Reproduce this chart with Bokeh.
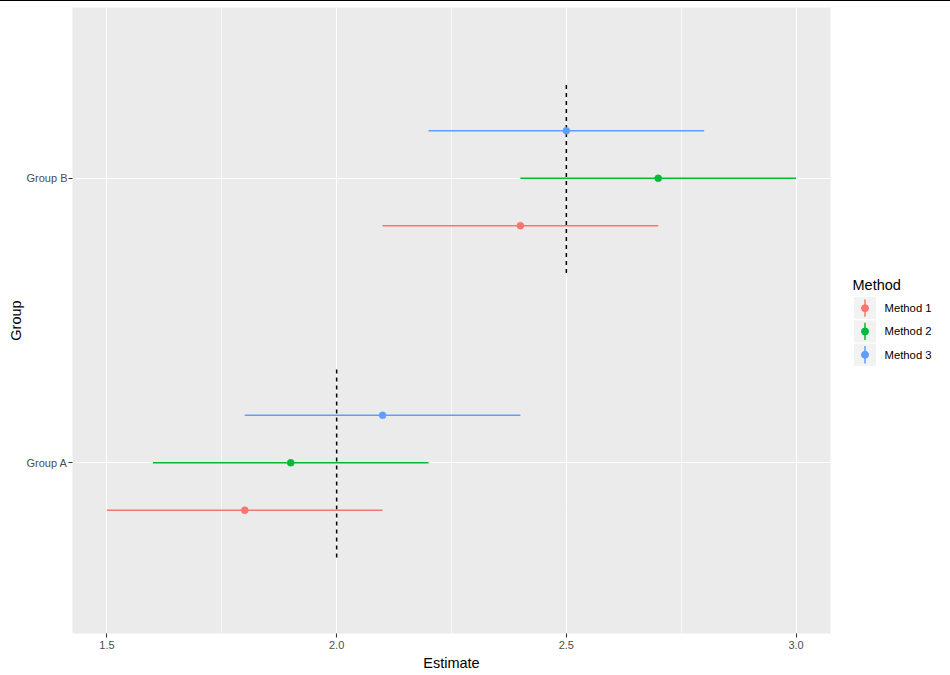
from bokeh.plotting import figure
from bokeh.models import (ColumnDataSource, FactorRange, Range1d, FixedTicker, Label, Div)
from bokeh.layouts import row, column
from bokeh.transform import dodge
from bokeh.embed import file_html
from bokeh.resources import INLINE

# ---- data ----
groups = ["Group A", "Group B"]
methods = ["Method 1", "Method 2", "Method 3"]
colors = ["#F8766D", "#00BA38", "#619CFF"]
estimate_A = [1.8, 1.9, 2.1]
lower_A = [1.5, 1.6, 1.8]
upper_A = [2.1, 2.2, 2.4]
estimate_B = [2.4, 2.7, 2.5]
lower_B = [2.1, 2.4, 2.2]
upper_B = [2.7, 3.0, 2.8]
reference = [2.0, 2.5]
x_ticks = [1.5, 2.0, 2.5, 3.0]
x_minor = [1.75, 2.25, 2.75]

FONT = "Liberation Sans"
dodge_offsets = [-1/6, 0.0, 1/6]

p = figure(width=838, height=674, output_backend="svg", toolbar_location=None,
           x_range=Range1d(1.425, 3.075),
           y_range=FactorRange(factors=groups, range_padding=0.1, range_padding_units="absolute"),
           min_border_left=72, min_border_right=8, min_border_top=6, min_border_bottom=42,
           margin=0)
p.background_fill_color = "#EBEBEB"
p.border_fill_color = "white"
p.outline_line_color = None

# grid
p.xaxis.ticker = FixedTicker(ticks=x_ticks, minor_ticks=x_minor)
p.xgrid.grid_line_color = "white"
p.xgrid.grid_line_width = 1.1
p.xgrid.minor_grid_line_color = "white"
p.xgrid.minor_grid_line_width = 0.6
p.ygrid.grid_line_color = "white"
p.ygrid.grid_line_width = 1.1

# reference dashed lines
ref_src = ColumnDataSource(dict(group=groups, ref=reference))
p.segment(x0="ref", x1="ref", y0=dodge("group", -1/3, range=p.y_range),
          y1=dodge("group", 1/3, range=p.y_range), source=ref_src,
          line_color="black", line_width=1.5, line_dash="4 4")

# point ranges
for i, m in enumerate(methods):
    src = ColumnDataSource(dict(
        group=groups,
        est=[estimate_A[i], estimate_B[i]],
        lo=[lower_A[i], lower_B[i]],
        hi=[upper_A[i], upper_B[i]],
    ))
    ypos = dodge("group", dodge_offsets[i], range=p.y_range)
    p.segment(x0="lo", x1="hi", y0=ypos, y1=ypos, source=src,
              line_color=colors[i], line_width=1.5)
    p.scatter(x="est", y=ypos, source=src, size=7, fill_color=colors[i],
              line_color=colors[i], line_width=0.5)

# axes styling
for ax in (p.xaxis[0], p.yaxis[0]):
    ax.axis_line_color = None
    ax.major_tick_line_color = "#333333"
    ax.major_tick_line_width = 1.1
    ax.major_tick_in = 0
    ax.major_tick_out = 4
    ax.minor_tick_line_color = None
    ax.major_label_text_font = FONT
    ax.major_label_text_font_size = "11px"
    ax.major_label_text_color = "#4D4D4D"
    ax.axis_label_text_font = FONT
    ax.axis_label_text_font_size = "14.5px"
    ax.axis_label_text_font_style = "normal"
    ax.axis_label_text_color = "black"
p.xaxis.major_label_standoff = 3
p.xaxis.axis_label_standoff = 3
p.yaxis.major_label_standoff = 1
p.yaxis.axis_label_standoff = 0
p.xaxis.axis_label = "Estimate"
p.yaxis.axis_label = "Group"
p.xaxis.major_label_overrides = {1.5: "1.5", 2.0: "2.0", 2.5: "2.5", 3.0: "3.0"}

# ---- legend (separate figure; ranges in page pixel coordinates) ----
leg = figure(width=112, height=674, output_backend="svg", toolbar_location=None,
             x_range=Range1d(838, 950), y_range=Range1d(633, 7),
             min_border_left=0, min_border_right=0,
             min_border_top=6, min_border_bottom=42, margin=0)
leg.axis.visible = False
leg.grid.visible = False
leg.outline_line_color = None
leg.background_fill_color = "white"
leg.border_fill_color = "white"

key_x0, key_w, key_top, key_h = 853, 23, 296, 23.3
leg.add_layout(Label(x=key_x0 - 1, y=284, text="Method", text_font=FONT,
                     text_font_size="14.5px", text_color="black",
                     text_baseline="middle", text_align="left"))
for i, m in enumerate(methods):
    top = key_top + i * key_h
    cy = top + key_h / 2
    leg.quad(left=[key_x0], right=[key_x0 + key_w], top=[top], bottom=[top + key_h],
             fill_color="#F2F2F2", line_color="white", line_width=1)
    cx = key_x0 + key_w / 2
    leg.segment(x0=[cx], x1=[cx], y0=[top + 3], y1=[top + key_h - 3],
                line_color=colors[i], line_width=1.5)
    leg.scatter(x=[cx], y=[cy], size=7, fill_color=colors[i], line_color=colors[i])
    leg.add_layout(Label(x=key_x0 + key_w + 8, y=cy, text=m, text_font=FONT,
                         text_font_size="11.3px", text_color="black",
                         text_baseline="middle", text_align="left"))

topline = Div(text="", width=950, height=1, margin=0,
              styles={"background-color": "black"})
layout = column(topline, row(p, leg, spacing=0, margin=0), spacing=0, margin=0)

open("out.html", "w").write(file_html(layout, INLINE))
